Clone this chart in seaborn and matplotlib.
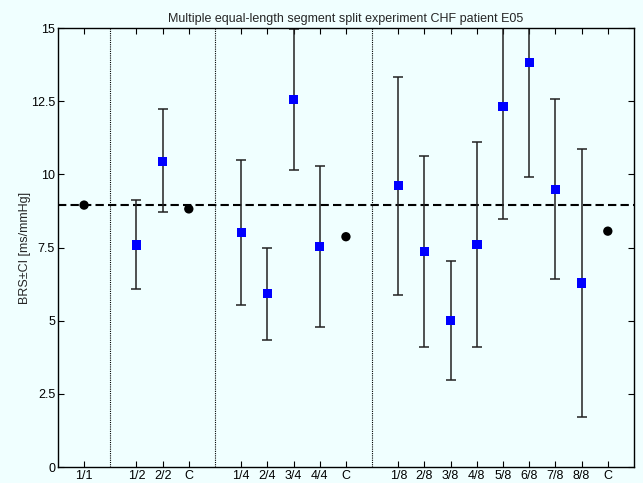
import matplotlib
matplotlib.use("Agg")
import matplotlib.pyplot as plt
import seaborn as sns
import pandas as pd
import numpy as np

# ---- data ----
labels = ["1/1", "1/2", "2/2", "C", "1/4", "2/4", "3/4", "4/4", "C",
          "1/8", "2/8", "3/8", "4/8", "5/8", "6/8", "7/8", "8/8", "C"]
positions = [1, 3, 4, 5, 7, 8, 9, 10, 11, 13, 14, 15, 16, 17, 18, 19, 20, 21]
kind = ["ref", "seg", "seg", "comb", "seg", "seg", "seg", "seg", "comb",
        "seg", "seg", "seg", "seg", "seg", "seg", "seg", "seg", "comb"]
brs = [8.95, 7.59, 10.45, 8.82, 8.01, 5.92, 12.55, 7.53, 7.87,
       9.61, 7.36, 5.01, 7.60, 12.32, 13.82, 9.49, 6.29, 8.06]
ci_low = [8.95, 6.07, 8.70, 8.82, 5.55, 4.35, 10.14, 4.80, 7.87,
          5.88, 4.11, 2.99, 4.09, 8.47, 9.91, 6.42, 1.71, 8.06]
ci_high = [8.95, 9.13, 12.23, 8.82, 10.48, 7.50, 14.96, 10.28, 7.87,
           13.33, 10.62, 7.04, 11.11, 16.17, 17.73, 12.57, 10.88, 8.06]
reference_brs = 8.95
separators = [2, 6, 12]
yticks = [0, 2.5, 5, 7.5, 10, 12.5, 15]
ytick_labels = ["0", "2.5", "5", "7.5", "10", "12.5", "15"]

df = pd.DataFrame({"pos": positions, "label": labels, "kind": kind,
                   "brs": brs, "lo": ci_low, "hi": ci_high})

bg = "#F0FFFF"
sns.set_theme(style="white")
plt.rcParams["font.family"] = ["Liberation Sans", "DejaVu Sans"]

fig = plt.figure(figsize=(6.43, 4.83), dpi=100, facecolor=bg)
ax = fig.add_axes([0.090, 0.033, 0.896, 0.909])
ax.set_facecolor(bg)

# error bars for segments
seg = df[df["kind"] == "seg"]
ax.errorbar(seg["pos"], seg["brs"],
            yerr=[seg["brs"] - seg["lo"], seg["hi"] - seg["brs"]],
            fmt="none", ecolor="#222222", elinewidth=1.1, capsize=3.6,
            capthick=1.1, zorder=2)

# reference dashed line
ax.axhline(reference_brs, color="black", lw=1.5, ls=(0, (4, 2)), zorder=1)

# separators
for s in separators:
    ax.axvline(s, color="black", lw=0.8, ls=(0, (1, 1)), zorder=1)

# markers
sns.scatterplot(data=seg, x="pos", y="brs", marker="s", color="#0000FF",
                s=45, edgecolor="none", ax=ax, zorder=3)
other = df[df["kind"] != "seg"]
sns.scatterplot(data=other, x="pos", y="brs", marker="o", color="black",
                s=45, edgecolor="none", ax=ax, zorder=3)

ax.set_xlim(0, 22)
ax.set_ylim(0, 15)
ax.set_xticks(positions)
ax.set_xticklabels(labels)
ax.set_yticks(yticks)
ax.set_yticklabels(ytick_labels)
ax.set_xlabel("")
ax.set_ylabel("BRS±CI [ms/mmHg]", fontsize=9, labelpad=0)
ax.set_title("Multiple equal-length segment split experiment CHF patient E05",
             fontsize=9, pad=4)
ax.tick_params(direction="in", length=4, width=0.8, labelsize=9,
               top=True, right=True, bottom=True, left=True, pad=2,
               colors="black")
for sp in ax.spines.values():
    sp.set_color("black")
    sp.set_linewidth(1.0)

fig.savefig("out.png", dpi=100, facecolor=bg)
